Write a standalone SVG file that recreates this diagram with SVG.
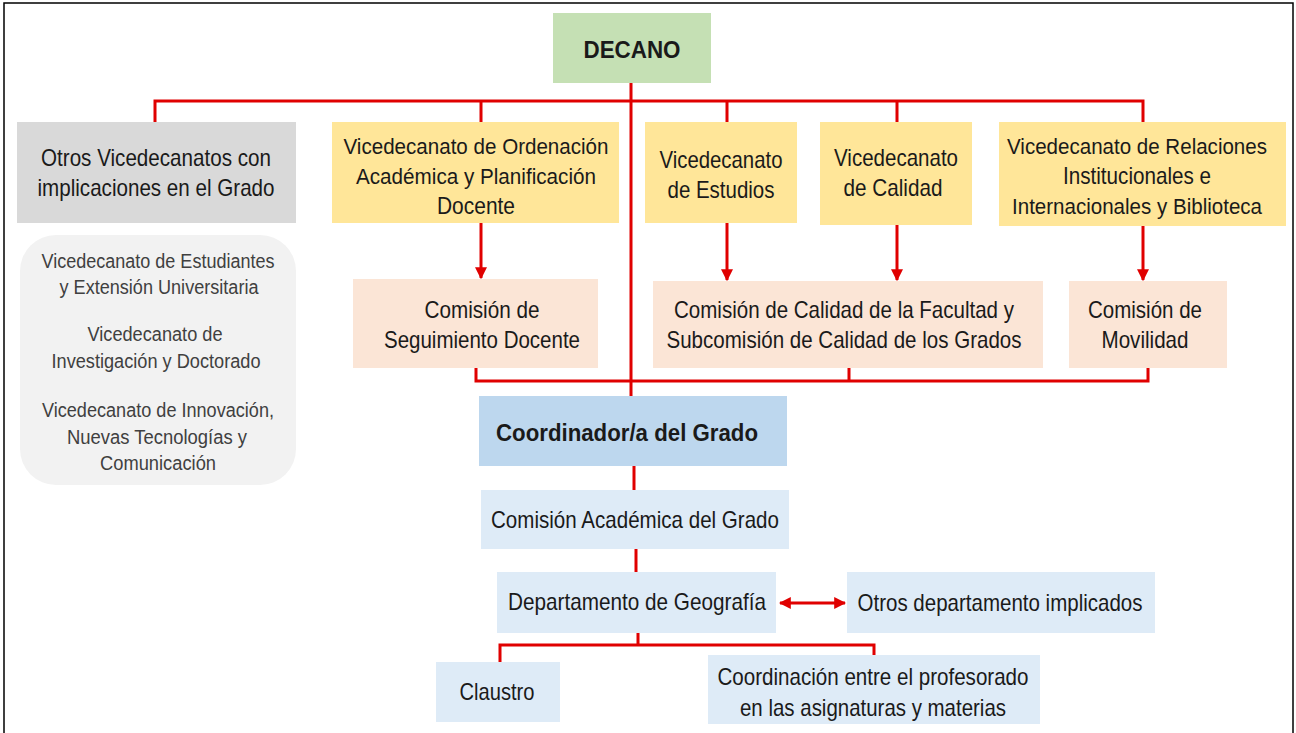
<svg xmlns="http://www.w3.org/2000/svg" width="1296" height="733" viewBox="0 0 1296 733">
<style>
text{font-family:"Liberation Sans",Arial,sans-serif;font-size:24px;fill:#1a1a1a;text-anchor:middle}
.b{font-weight:bold;font-size:23px}
.s{font-size:20px;fill:#404040}
.m{font-size:22px}
.ln{stroke:#e00000;stroke-width:3;fill:none}
</style>
<defs>
<marker id="ah" viewBox="0 0 10 10" refX="9" refY="5" markerWidth="4" markerHeight="4" orient="auto-start-reverse" markerUnits="strokeWidth"><path d="M0,0 L10,5 L0,10 z" fill="#e00000"/></marker>
</defs>
<rect x="0" y="0" width="1296" height="733" fill="#fff"/>
<rect x="4" y="3" width="1289" height="745" fill="none" stroke="#000" stroke-width="1.5"/>
<g id="connectors">
<path class="ln" d="M155,122 V101 H1143 V122 M481,101 V122 M727,101 V122 M897,101 V122"/>
<path class="ln" d="M631,83 V396"/>
<path class="ln" marker-end="url(#ah)" d="M481,223 V278"/>
<path class="ln" marker-end="url(#ah)" d="M727,223 V280"/>
<path class="ln" marker-end="url(#ah)" d="M897,225 V280"/>
<path class="ln" marker-end="url(#ah)" d="M1143,226 V280"/>
<path class="ln" d="M476,368 V381 H1148 V368 M849,368 V381"/>
<path class="ln" d="M634,466 V490"/>
<path class="ln" d="M636,549 V572"/>
<path class="ln" marker-start="url(#ah)" marker-end="url(#ah)" d="M780,603 H845"/>
<path class="ln" d="M638,633 V645 M500,662 V645 H874 V655"/>
</g>
<g id="decano"><rect x="553" y="13" width="158" height="70" fill="#c5e0b4"/><text class="b" x="632" y="58" textLength="97" lengthAdjust="spacingAndGlyphs">DECANO</text></g>
<g id="otros"><rect x="17" y="122" width="279" height="101" fill="#d9d9d9"/><text x="156" y="166" textLength="230" lengthAdjust="spacingAndGlyphs">Otros Vicedecanatos con</text><text x="156" y="196" textLength="237" lengthAdjust="spacingAndGlyphs">implicaciones en el Grado</text></g>
<g id="ordenacion"><rect x="332" y="122" width="287" height="101" fill="#ffe699"/><text class="m" x="476" y="154" textLength="265" lengthAdjust="spacingAndGlyphs">Vicedecanato de Ordenación</text><text class="m" x="476" y="184" textLength="240" lengthAdjust="spacingAndGlyphs">Académica y Planificación</text><text x="476" y="214" textLength="78" lengthAdjust="spacingAndGlyphs">Docente</text></g>
<g id="estudios"><rect x="645" y="122" width="152" height="101" fill="#ffe699"/><text x="721" y="168" textLength="123" lengthAdjust="spacingAndGlyphs">Vicedecanato</text><text x="721" y="198" textLength="107" lengthAdjust="spacingAndGlyphs">de Estudios</text></g>
<g id="calidad"><rect x="820" y="122" width="152" height="103" fill="#ffe699"/><text x="896" y="166" textLength="124" lengthAdjust="spacingAndGlyphs">Vicedecanato</text><text x="893" y="196" textLength="99" lengthAdjust="spacingAndGlyphs">de Calidad</text></g>
<g id="relaciones"><rect x="999" y="122" width="287" height="104" fill="#ffe699"/><text class="m" x="1137" y="154" textLength="260" lengthAdjust="spacingAndGlyphs">Vicedecanato de Relaciones</text><text x="1137" y="184" textLength="148" lengthAdjust="spacingAndGlyphs">Institucionales e</text><text class="m" x="1137" y="214" textLength="250" lengthAdjust="spacingAndGlyphs">Internacionales y Biblioteca</text></g>
<g id="otros-lista"><rect x="20" y="235" width="276" height="250" rx="36" fill="#f2f2f2"/>
<text class="s" x="158" y="268" textLength="233" lengthAdjust="spacingAndGlyphs">Vicedecanato de Estudiantes</text><text class="s" x="159" y="294" textLength="199" lengthAdjust="spacingAndGlyphs">y Extensión Universitaria</text>
<text class="s" x="155" y="341" textLength="135" lengthAdjust="spacingAndGlyphs">Vicedecanato de</text><text class="s" x="156" y="368" textLength="209" lengthAdjust="spacingAndGlyphs">Investigación y Doctorado</text>
<text class="s" x="158" y="417" textLength="232" lengthAdjust="spacingAndGlyphs">Vicedecanato de Innovación,</text><text class="s" x="157" y="444" textLength="180" lengthAdjust="spacingAndGlyphs">Nuevas Tecnologías y</text><text class="s" x="158" y="470" textLength="116" lengthAdjust="spacingAndGlyphs">Comunicación</text></g>
<g id="seguimiento"><rect x="353" y="279" width="245" height="89" fill="#fbe5d6"/><text x="482" y="318" textLength="115" lengthAdjust="spacingAndGlyphs">Comisión de</text><text x="482" y="348" textLength="196" lengthAdjust="spacingAndGlyphs">Seguimiento Docente</text></g>
<g id="comision-calidad"><rect x="653" y="281" width="390" height="87" fill="#fbe5d6"/><text x="844" y="318" textLength="340" lengthAdjust="spacingAndGlyphs">Comisión de Calidad de la Facultad y</text><text x="844" y="348" textLength="355" lengthAdjust="spacingAndGlyphs">Subcomisión de Calidad de los Grados</text></g>
<g id="movilidad"><rect x="1069" y="281" width="158" height="87" fill="#fbe5d6"/><text x="1145" y="318" textLength="114" lengthAdjust="spacingAndGlyphs">Comisión de</text><text x="1145" y="348" textLength="87" lengthAdjust="spacingAndGlyphs">Movilidad</text></g>
<g id="coordinador"><rect x="479" y="396" width="308" height="70" fill="#bdd7ee"/><text class="b" x="627" y="441" textLength="262" lengthAdjust="spacingAndGlyphs">Coordinador/a del Grado</text></g>
<g id="comision-academica"><rect x="481" y="490" width="308" height="59" fill="#deebf7"/><text x="635" y="528" textLength="288" lengthAdjust="spacingAndGlyphs">Comisión Académica del Grado</text></g>
<g id="geografia"><rect x="497" y="572" width="279" height="61" fill="#deebf7"/><text x="637" y="610" textLength="258" lengthAdjust="spacingAndGlyphs">Departamento de Geografía</text></g>
<g id="otros-dep"><rect x="847" y="572" width="308" height="61" fill="#deebf7"/><text x="1000" y="611" textLength="285" lengthAdjust="spacingAndGlyphs">Otros departamento implicados</text></g>
<g id="claustro"><rect x="436" y="662" width="124" height="60" fill="#deebf7"/><text x="497" y="700" textLength="75" lengthAdjust="spacingAndGlyphs">Claustro</text></g>
<g id="coordinacion"><rect x="708" y="655" width="332" height="69" fill="#deebf7"/><text x="873" y="685" textLength="311" lengthAdjust="spacingAndGlyphs">Coordinación entre el profesorado</text><text x="873" y="716" textLength="266" lengthAdjust="spacingAndGlyphs">en las asignaturas y materias</text></g>
</svg>
